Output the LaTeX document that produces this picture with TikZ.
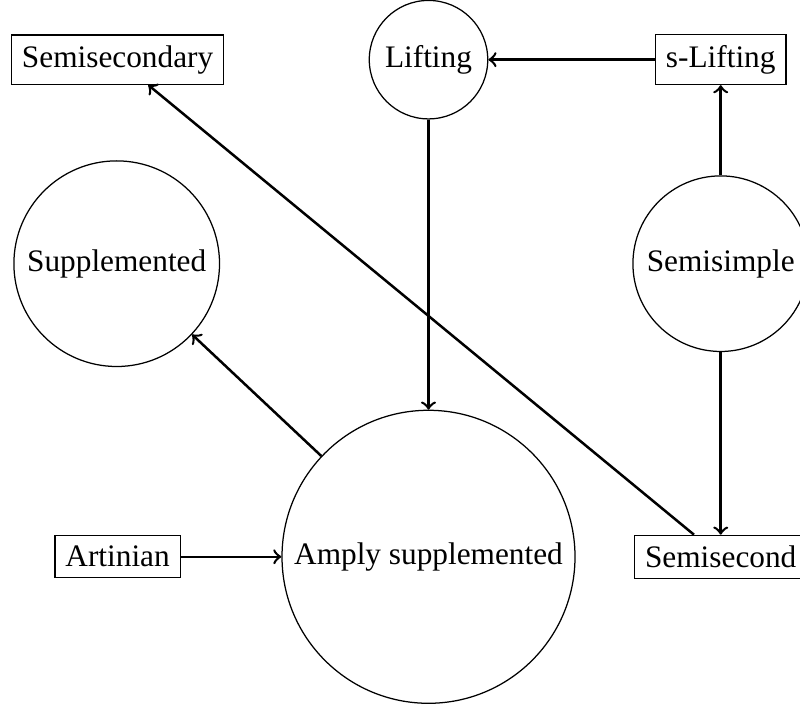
\documentclass[tikz,border=0pt]{standalone}
\usepackage{fontspec}
\setmainfont{Liberation Serif}
\tikzset{mod/.style = {draw, circle},
         cls/.style = {draw, rectangle},
         imp/.style = {->, thick}}

\begin{document}
\begin{tikzpicture}
  	\clip (0,0) rectangle (8.98,-8.01);
  	\node[cls] (semisec) at (1.32,-0.67) {Semisecondary};
  	\node[mod] (lift) at (4.81,-0.67) {Lifting};
  	\node[cls] (slift) at (8.09,-0.67) {s-Lifting};
  	\node[mod] (suppl) at (1.31,-2.96) {Supplemented};
  	\node[mod] (ssimple) at (8.09,-2.96) {Semisimple};
  	\node[cls] (artin) at (1.32,-6.25) {Artinian};
  	\node[mod] (amply) at (4.81,-6.25) {Amply supplemented};
  	\node[cls] (semisecb) at (8.09,-6.25) {Semisecond};
    \draw[imp] (slift) -- (lift);
    \draw[imp] (ssimple) -- (slift);
    \draw[imp] (lift) -- (amply);
    \draw[imp] (ssimple) -- (semisecb);
    \draw[imp] (amply) -- (suppl);
    \draw[imp] (artin) -- (amply);
    \draw[imp] (semisecb) -- (semisec);
  \end{tikzpicture}
\end{document}
